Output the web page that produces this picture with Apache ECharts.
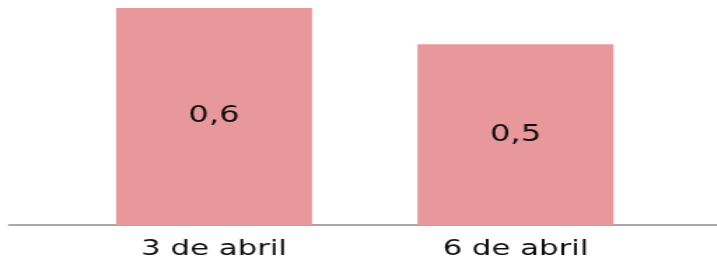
<!DOCTYPE html>
<html>
<head>
<meta charset="utf-8">
<script src="https://cdn.jsdelivr.net/npm/echarts@6/dist/echarts.min.js"></script>
<style>
  html, body { margin: 0; padding: 0; background: #fff; overflow: hidden; }
  /* the reference text is stretched wide, so draw narrow and stretch */
  #chart { width: 512px; height: 260px; transform: scaleX(1.4); transform-origin: 0 0; }
</style>
</head>
<body>
<div id="chart"></div>
<script>
const categories = ['3 de abril', '6 de abril']
const values = [0.6, 0.5]

const chart = echarts.init(document.getElementById('chart'))
const option = {
  animation: false,
  textStyle: { fontFamily: 'DejaVu Sans' },
  grid: [
    { left: 45.2, right: 36.1, top: 8, bottom: 35 },
    { left: 6.4, right: 0, top: 8, bottom: 35 }
  ],
  xAxis: [{
    type: 'category',
    gridIndex: 0,
    data: categories,
    axisLine: { show: false },
    axisTick: { show: false },
    axisLabel: { color: '#111', fontSize: 22, margin: 13 }
  }, {
    type: 'category',
    gridIndex: 1,
    data: [],
    axisLine: { show: true, lineStyle: { color: '#8c8c8c', width: 1.5 } },
    axisTick: { show: false },
    axisLabel: { show: false }
  }],
  yAxis: [{
    type: 'value',
    gridIndex: 0,
    min: 0,
    max: 0.6,
    show: false
  }, {
    type: 'value',
    gridIndex: 1,
    show: false
  }],
  series: [{
    type: 'bar',
    xAxisIndex: 0,
    yAxisIndex: 0,
    data: values,
    barWidth: '65%',
    itemStyle: { color: '#e8989a' },
    label: {
      show: true,
      position: 'inside',
      color: '#111',
      fontSize: 23,
      formatter: p => String(p.value).replace('.', ',')
    }
  }]
}
chart.setOption(option)
</script>
</body>
</html>
